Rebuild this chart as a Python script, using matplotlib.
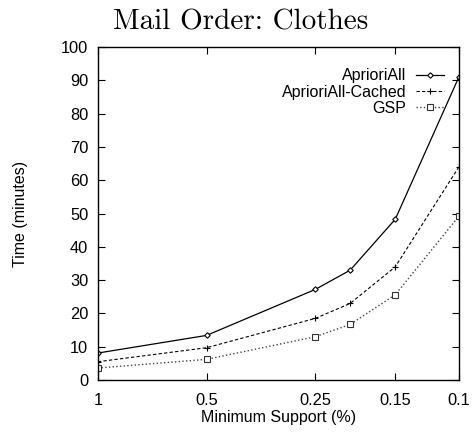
import matplotlib
matplotlib.use('Agg')
import matplotlib.pyplot as plt
from matplotlib.ticker import FixedLocator, FixedFormatter, NullLocator

# data
support = [1, 0.5, 0.25, 0.2, 0.15, 0.1]
apriori_all = [8.1, 13.4, 27.2, 33.0, 48.3, 91.0]
apriori_cached = [5.5, 9.7, 18.5, 23.0, 34.0, 64.0]
gsp = [3.6, 6.2, 13.0, 16.7, 25.6, 49.2]

tick_vals = [1, 0.5, 0.25, 0.15, 0.1]
tick_labels = ['1', '0.5', '0.25', '0.15', '0.1']

plt.rcParams['font.family'] = ['Liberation Sans', 'DejaVu Sans']

fig = plt.figure(figsize=(4.73, 4.33), dpi=100)
ax = fig.add_axes([0.207, 0.1224, 0.763, 0.7686])

ax.plot(support, apriori_all, '-', color='black', lw=0.9,
        marker='D', ms=2.8, mfc='white', mec='black', mew=0.8, label='AprioriAll')
ax.plot(support, apriori_cached, '--', color='black', lw=0.8, dashes=(3, 2),
        marker='+', ms=5, mew=0.8, label='AprioriAll-Cached')
ax.plot(support, gsp, ':', color='#444444', lw=1.0,
        marker='s', ms=4, mfc='white', mec='#333333', mew=0.8, label='GSP')

ax.set_xscale('log')
ax.set_xlim(1, 0.1)
ax.set_ylim(0, 100)
ax.xaxis.set_major_locator(FixedLocator(tick_vals))
ax.xaxis.set_major_formatter(FixedFormatter(tick_labels))
ax.xaxis.set_minor_locator(NullLocator())
ax.set_yticks(range(0, 101, 10))

ax.tick_params(direction='in', top=True, right=True, length=5, width=0.8,
               labelsize=11.8)
ax.tick_params(axis='y', pad=7)
ax.tick_params(axis='x', pad=9)
for s in ax.spines.values():
    s.set_linewidth(1.0)

ax.set_xlabel('Minimum Support (%)', fontsize=11.5, labelpad=2)
ax.set_ylabel('Time (minutes)', fontsize=11.5, labelpad=24)

fig.text(0.509, 0.932, 'Mail Order: Clothes', family='cmr10', fontsize=21,
         ha='center', va='baseline')

ax.legend(loc='upper right', bbox_to_anchor=(1, 0.98), markerfirst=False,
          frameon=False, fontsize=11.5, handlelength=1.8, handletextpad=0.6,
          labelspacing=0.08, borderaxespad=0.5, borderpad=0.4,
          alignment='right')

fig.savefig('out.png', dpi=100)
